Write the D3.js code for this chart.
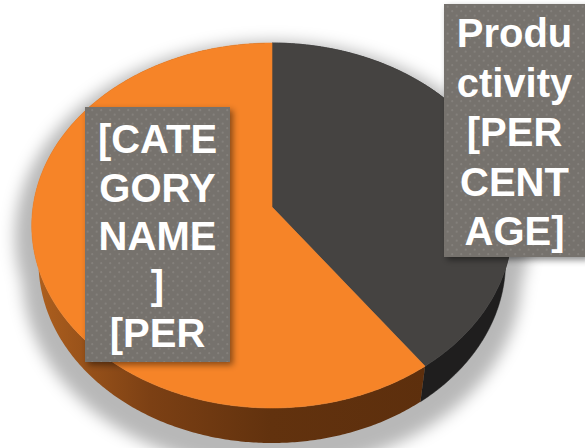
<!DOCTYPE html>
<html lang="en">
<head>
    <meta charset="utf-8">
    <title>Pie</title>
    <style>
        html, body { margin: 0; padding: 0; background: #fff; }
        svg { display: block; }
    </style>
</head>
<body>
    <svg width="585" height="448"></svg>
    <script src="https://cdn.jsdelivr.net/npm/d3@7"></script>
    <script>
        // data
        const categories = ["Productivity", "[CATEGORY NAME]"];
        const values = [40, 60];
        const labelLines = [
            ["Produ", "ctivity", "[PER", "CENT", "AGE]"],
            ["[CATE", "GORY", "NAME", "]", "[PER"]
        ];

        const topColors = ["#454341", "#f68428"];

        // layout of the label boxes (placed by hand in the original)
        const boxes = [
            {x: 444, y: 4, w: 143, h: 253, first: 47, pitch: 49.5},
            {x: 85, y: 107, w: 145, h: 255, first: 153, pitch: 48.5}
        ];

        const svg = d3.select("svg");

        // simple perspective camera for a tilted disk
        const cx = 272, cy = 207;
        const D = 1, R = 0.1548, F = 1544, H = 0.0378;
        const alpha = Math.asin(0.7556);
        const sa = Math.sin(alpha), ca = Math.cos(alpha);

        function project(theta, r, yw) {
            const u = r * Math.sin(theta);
            const v = r * Math.cos(theta);
            const yc = yw * ca + v * sa;
            const z = D + v * ca - yw * sa;
            return [cx + F * u / z, cy - F * yc / z];
        }

        function arcPoints(a0, a1, yw) {
            const n = Math.max(2, Math.ceil(Math.abs(a1 - a0) / 0.01));
            return d3.range(n + 1).map(i => project(a0 + (a1 - a0) * i / n, R, yw));
        }

        const line = d3.line();

        const arcs = d3.pie().sort(null).startAngle(0).endAngle(2 * Math.PI)(values);

        const defs = svg.append("defs");

        const pat = defs.append("pattern")
            .attr("id", "dots")
            .attr("patternUnits", "userSpaceOnUse")
            .attr("width", 9).attr("height", 9);
        pat.append("rect").attr("width", 9).attr("height", 9).attr("fill", "#76726d");
        pat.append("circle").attr("cx", 2.2).attr("cy", 2.2).attr("r", 1.1).attr("fill", "#84807b");
        pat.append("circle").attr("cx", 6.7).attr("cy", 6.7).attr("r", 1.1).attr("fill", "#84807b");

        const blur = defs.append("filter").attr("id", "pieShadow")
            .attr("x", "-20%").attr("y", "-20%").attr("width", "140%").attr("height", "140%");
        blur.append("feGaussianBlur").attr("stdDeviation", 7);

        const boxShadow = defs.append("filter").attr("id", "boxShadow")
            .attr("x", "-20%").attr("y", "-20%").attr("width", "140%").attr("height", "140%");
        boxShadow.append("feDropShadow")
            .attr("dx", 3).attr("dy", 3).attr("stdDeviation", 3)
            .attr("flood-color", "#000").attr("flood-opacity", 0.45);

        const sideGrad = defs.append("linearGradient")
            .attr("id", "sideOrange")
            .attr("gradientUnits", "userSpaceOnUse")
            .attr("x1", 30).attr("x2", 430).attr("y1", 0).attr("y2", 0);
        sideGrad.append("stop").attr("offset", 0).attr("stop-color", "#b0611f");
        sideGrad.append("stop").attr("offset", 0.3).attr("stop-color", "#7c4014");
        sideGrad.append("stop").attr("offset", 0.6).attr("stop-color", "#62320e");
        sideGrad.append("stop").attr("offset", 1).attr("stop-color", "#5d2f0d");

        const sideFills = ["#1f1e1e", "url(#sideOrange)"];

        // shadow under the pie
        const full = 2 * Math.PI;
        svg.append("g")
            .attr("transform", `translate(${cx},${cy + 10}) scale(1.07) translate(${-cx},${-cy})`)
            .append("path")
            .attr("d", line(arcPoints(0, full, -H)) + "Z" + line(arcPoints(0, full, 0)) + "Z")
            .attr("fill", "#000")
            .attr("fill-opacity", 0.28)
            .attr("filter", "url(#pieShadow)");

        // sides
        svg.append("g").selectAll("path")
            .data(arcs)
            .join("path")
            .attr("d", d => line(arcPoints(d.startAngle, d.endAngle, 0)
                .concat(arcPoints(d.endAngle, d.startAngle, -H))) + "Z")
            .attr("fill", (d, i) => sideFills[i])
            .attr("stroke", (d, i) => i === 0 ? "#1f1e1e" : "none")
            .attr("stroke-width", 0.5);

        // tops
        svg.append("g").selectAll("path")
            .data(arcs)
            .join("path")
            .attr("d", d => line([[cx, cy]].concat(arcPoints(d.startAngle, d.endAngle, 0))) + "Z")
            .attr("fill", (d, i) => topColors[i])
            .attr("stroke", (d, i) => topColors[i])
            .attr("stroke-width", 0.6);

        // data labels
        const labels = svg.append("g").selectAll("g")
            .data(categories)
            .join("g");

        labels.append("rect")
            .attr("x", (d, i) => boxes[i].x)
            .attr("y", (d, i) => boxes[i].y)
            .attr("width", (d, i) => boxes[i].w)
            .attr("height", (d, i) => boxes[i].h)
            .attr("fill", "url(#dots)")
            .attr("filter", "url(#boxShadow)");

        labels.each(function(d, i) {
            const b = boxes[i];
            d3.select(this).selectAll("text")
                .data(labelLines[i])
                .join("text")
                .attr("x", b.x + b.w / 2 - (i === 0 ? 1 : 0))
                .attr("y", (t, j) => b.first + j * b.pitch)
                .attr("text-anchor", "middle")
                .attr("font-family", "Liberation Sans, Arial, sans-serif")
                .attr("font-weight", "bold")
                .attr("font-size", 40)
                .attr("fill", "#fff")
                .text(t => t);
        });
    </script>
</body>
</html>
